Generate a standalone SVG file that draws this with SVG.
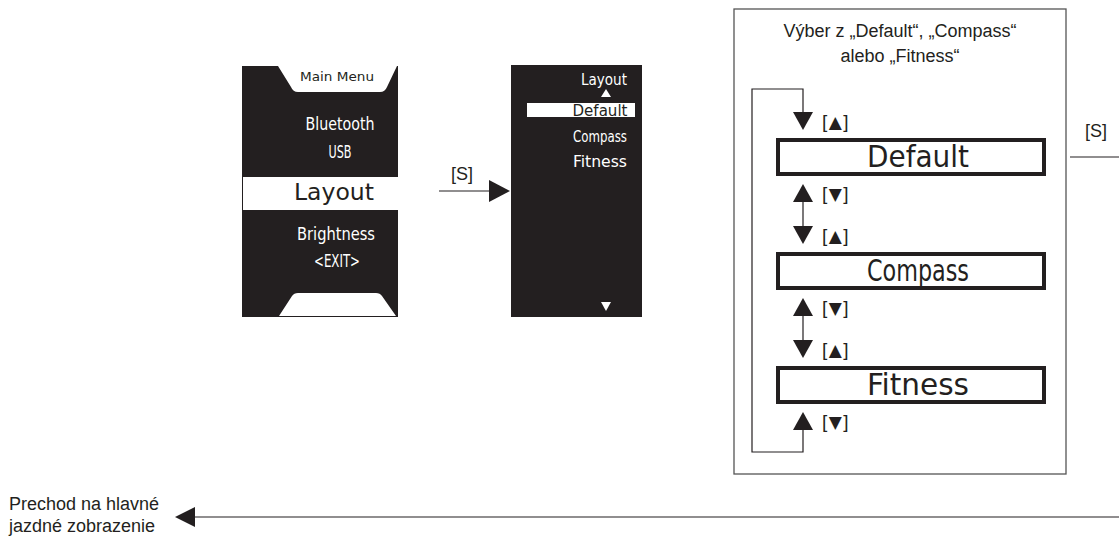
<svg xmlns="http://www.w3.org/2000/svg" width="1119" height="536" viewBox="0 0 1119 536">
<style>
.scr{fill:#231f20}
.wh{fill:#ffffff}
.st{font-family:"DejaVu Sans Condensed","DejaVu Sans",sans-serif;fill:#ffffff}
.stb{font-family:"DejaVu Sans Condensed","DejaVu Sans",sans-serif;fill:#231f20}
.rd{font-family:"DejaVu Sans",sans-serif}
.lbl{font-family:"Liberation Sans",Arial,sans-serif;font-size:18px;fill:#231f20}
.key{font-family:"Liberation Sans",Arial,"DejaVu Sans",sans-serif;font-size:19px;fill:#231f20;letter-spacing:1.5px}
.tri{font-family:"DejaVu Sans",sans-serif;font-size:17px}
.ln{stroke:#231f20;stroke-width:1.2;fill:none}
.ah{fill:#231f20}
.opt{fill:#ffffff;stroke:#231f20;stroke-width:4}
</style>

<g id="screen-main-menu">
  <rect class="scr" x="242" y="66" width="156" height="251"/>
  <path class="wh" d="M278,66 L397,66 L387,87 Q385,92 380,92 L298,92 Q293,92 291,87 Z"/>
  <text class="stb rd" x="337" y="81" font-size="12" text-anchor="middle" textLength="74" lengthAdjust="spacingAndGlyphs">Main Menu</text>
  <text class="st" x="340" y="130" font-size="18" text-anchor="middle" textLength="69" lengthAdjust="spacingAndGlyphs">Bluetooth</text>
  <text class="st" x="340" y="158" font-size="17" text-anchor="middle" textLength="23" lengthAdjust="spacingAndGlyphs">USB</text>
  <rect class="wh" x="243" y="177" width="155" height="33"/>
  <text class="stb rd" x="334" y="200" font-size="23" text-anchor="middle" textLength="80" lengthAdjust="spacingAndGlyphs">Layout</text>
  <text class="st" x="336" y="240" font-size="18" text-anchor="middle" textLength="78" lengthAdjust="spacingAndGlyphs">Brightness</text>
  <text class="st" x="337" y="267" font-size="17" text-anchor="middle" textLength="46" lengthAdjust="spacingAndGlyphs">&lt;EXIT&gt;</text>
  <path class="wh" d="M279,316 L396,316 L382,296 Q380,293 376,293 L298,293 Q294,293 292,296 Z"/>
</g>

<g id="screen-layout">
  <rect class="scr" x="511" y="65" width="131" height="252"/>
  <text class="st" x="604" y="85" font-size="15" text-anchor="middle" textLength="46" lengthAdjust="spacingAndGlyphs">Layout</text>
  <path class="wh" d="M606,89 L611,97 L601,97 Z"/>
  <rect class="wh" x="527" y="103" width="108" height="14"/>
  <text class="stb" x="600" y="116" font-size="15" text-anchor="middle" textLength="55" lengthAdjust="spacingAndGlyphs">Default</text>
  <text class="st" x="600" y="142" font-size="15" text-anchor="middle" textLength="54" lengthAdjust="spacingAndGlyphs">Compass</text>
  <text class="st" x="600" y="167" font-size="15" text-anchor="middle" textLength="54" lengthAdjust="spacingAndGlyphs">Fitness</text>
  <path class="wh" d="M601,302 L611,302 L606,311 Z"/>
</g>

<g id="box-selection">
  <rect x="734" y="9" width="332" height="465" fill="#ffffff" stroke="#555555" stroke-width="1.3"/>
  <text class="lbl" x="900" y="37" text-anchor="middle">Výber z „Default“, „Compass“</text>
  <text class="lbl" x="900" y="62" text-anchor="middle">alebo „Fitness“</text>
</g>

<g id="option-default">
  <rect class="opt" x="778" y="140" width="266" height="34"/>
  <text class="stb" x="918" y="167" font-size="30" text-anchor="middle" textLength="102" lengthAdjust="spacingAndGlyphs">Default</text>
</g>
<g id="option-compass">
  <rect class="opt" x="778" y="254" width="266" height="34"/>
  <text class="stb" x="918" y="281" font-size="30" text-anchor="middle" textLength="102" lengthAdjust="spacingAndGlyphs">Compass</text>
</g>
<g id="option-fitness">
  <rect class="opt" x="778" y="368" width="266" height="34"/>
  <text class="stb" x="918" y="395" font-size="30" text-anchor="middle" textLength="102" lengthAdjust="spacingAndGlyphs">Fitness</text>
</g>

<g id="exit-label">
  <text class="lbl" x="9" y="510">Prechod na hlavné</text>
  <text class="lbl" x="9" y="532">jazdné zobrazenie</text>
</g>

<g id="connectors">
  <line class="ln" x1="439" y1="191" x2="490" y2="191"/>
  <path class="ah" d="M489,180 L510,191 L489,202 Z"/>
  <text class="lbl" x="462" y="180" font-size="19" text-anchor="middle">[S]</text>

  <path class="ln" d="M803,112 L803,89 L752,89 L752,452 L803,452 L803,430"/>
  <line class="ln" x1="803" y1="202" x2="803" y2="226"/>
  <line class="ln" x1="803" y1="316" x2="803" y2="340"/>

  <path class="ah" d="M793,112 L813,112 L803,130 Z"/>
  <path class="ah" d="M803,184 L813,202 L793,202 Z"/>
  <path class="ah" d="M793,226 L813,226 L803,244 Z"/>
  <path class="ah" d="M803,298 L813,316 L793,316 Z"/>
  <path class="ah" d="M793,340 L813,340 L803,358 Z"/>
  <path class="ah" d="M803,412 L813,430 L793,430 Z"/>

  <text class="key" x="822" y="128">[<tspan class="tri">▲</tspan>]</text>
  <text class="key" x="822" y="200">[<tspan class="tri">▼</tspan>]</text>
  <text class="key" x="822" y="242">[<tspan class="tri">▲</tspan>]</text>
  <text class="key" x="822" y="314">[<tspan class="tri">▼</tspan>]</text>
  <text class="key" x="822" y="356">[<tspan class="tri">▲</tspan>]</text>
  <text class="key" x="822" y="428">[<tspan class="tri">▼</tspan>]</text>

  <text class="lbl" x="1096" y="137" font-size="19" text-anchor="middle">[S]</text>
  <line class="ln" x1="1070" y1="157" x2="1119" y2="157"/>

  <line class="ln" x1="194" y1="517" x2="1119" y2="517"/>
  <path class="ah" d="M175,517 L195,507 L195,527 Z"/>
</g>
</svg>
